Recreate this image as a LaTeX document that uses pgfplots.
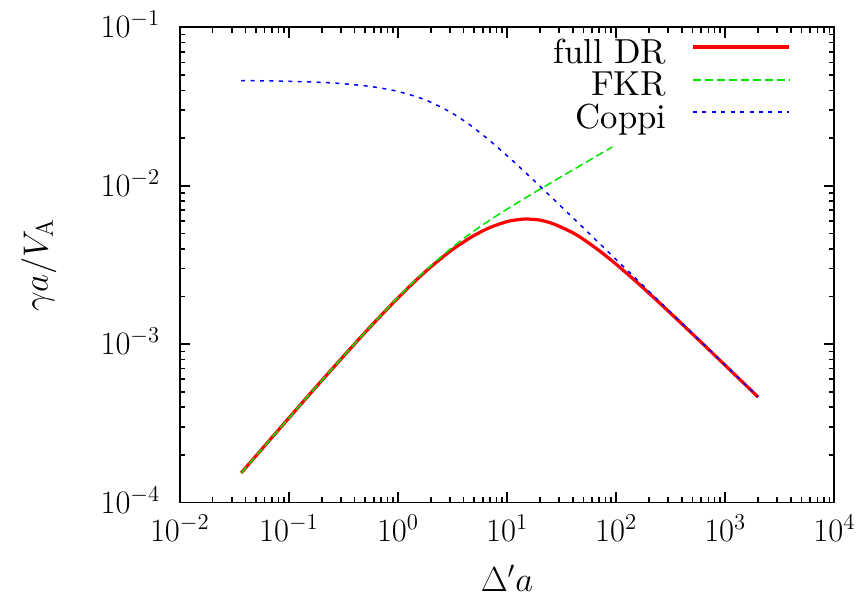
\documentclass[border=0pt]{standalone}
\usepackage[no-math]{fontspec}
\setmainfont[Extension=.otf]{lmroman10-regular}
\usepackage{graphicx}
\usepackage{pgfplots}
\pgfplotsset{compat=1.18}
\usetikzlibrary{calc}

\definecolor{gpred}{RGB}{255,0,0}
\definecolor{gpgreen}{RGB}{0,230,0}
\definecolor{gpblue}{RGB}{0,0,255}
\newcommand{\lblfont}{\fontsize{17.28}{20.7}\selectfont}
\newcommand{\legfont}{\fontsize{18.4}{22}\selectfont}

\begin{document}
\begin{tikzpicture}
\begin{axis}[
    name=ax,
    xmode=log, ymode=log,
    xmin=1e-2, xmax=1e4,
    ymin=1e-4, ymax=1e-1,
    scale only axis,
    width=346.9pt, height=251.9pt,
    xtick={1e-2,1e-1,1,10,100,1000,1e4},
    ytick={1e-4,1e-3,1e-2,1e-1},
    tick align=inside,
    major tick length=5.67pt, minor tick length=3pt,
    axis line style={line width=0.95pt},
    tick style={black, line width=0.85pt},
    tick label style={font=\lblfont},
    xticklabel style={yshift=-3.2pt},
    yticklabel style={anchor=base east, xshift=-6.9pt, yshift=-5.56pt},
    xlabel={\scalebox{1.07}{$\Delta' a$}},
    ylabel={\scalebox{1.07}{$\gamma a/V_{\mathrm{A}}$}},
    every axis x label/.style={at={(axis description cs:0.5,-0.1586)}, anchor=center, font=\lblfont},
    every axis y label/.style={at={(axis description cs:-0.2151,0.5)}, anchor=center, rotate=90, font=\lblfont},
    legend plot pos=right,
    legend cell align=right,
    legend style={at={(axis description cs:0.93384,0.97328)}, anchor=north east,
        draw=none, fill=none, inner sep=0pt, column sep=13.25pt, row sep=1.33pt,
        font=\legfont,
        nodes={inner sep=0pt, text height=12.2pt, text depth=3.7pt}},
    legend image code/.code={\draw[#1] (0pt,4.4pt) -- (50.9pt,4.4pt);},
]

% full dispersion relation
\addplot[color=gpred, line width=1.7pt, smooth] coordinates {
    (0.0365,1.537e-4)(0.05,1.974e-4)(0.1,3.419e-4)(0.2,5.889e-4)
    (0.5,1.1873e-3)(1,1.9599e-3)(1.5,2.5721e-3)(2,3.0745e-3)
    (3,3.8556e-3)(4,4.4135e-3)(5,4.8584e-3)(7,5.4563e-3)
    (10,5.9381e-3)(12,6.0793e-3)(15,6.1649e-3)(20,6.0660e-3)
    (25,5.8305e-3)(30,5.5491e-3)(40,5.0504e-3)(50,4.5939e-3)
    (70,3.8913e-3)(100,3.1932e-3)(150,2.5080e-3)(200,2.0967e-3)
    (300,1.6184e-3)(500,1.1602e-3)(700,9.2989e-4)(1000,7.3445e-4)
    (1500,5.6128e-4)(2000,4.6357e-4)
};
\addlegendentry{\legfont full DR}

% FKR
\addlegendimage{color=gpgreen, line width=1pt, dash pattern=on 4.24pt off 2.12pt}
\addlegendentry{\legfont FKR}
\addplot[forget plot, color=gpgreen, line width=0.8pt, dash pattern=on 4.24pt off 2.12pt, smooth] coordinates {
    (0.0365,1.5370e-4)(0.05,1.9740e-4)(0.1,3.4198e-4)(0.2,5.8950e-4)
    (0.5,1.19085e-3)(1,1.97401e-3)(1.5,2.60318e-3)(2,3.13017e-3)
    (3,3.97766e-3)(4,4.64375e-3)(5,5.19429e-3)(7,6.08289e-3)
    (10,7.11527e-3)(12,7.68789e-3)(15,8.43650e-3)(20,9.49465e-3)
    (25,0.0103944)(30,0.0111895)(40,0.0125647)(50,0.0137427)
    (70,0.0157282)(92,0.017544)
};

% Coppi
\addplot[color=gpblue, line width=0.8pt, dash pattern=on 2.1pt off 2.9pt, smooth] coordinates {
    (0.0365,0.046134)(0.05,0.046031)(0.1,0.045649)(0.2,0.044895)
    (0.3,0.044154)(0.5,0.042714)(0.7,0.041329)(1,0.039357)
    (1.5,0.036350)(2,0.033678)(3,0.029240)(4,0.025793)
    (5,0.023088)(7,0.019178)(10,0.015480)(12,0.013809)
    (15,0.011974)(20,0.0099352)(25,0.0085806)(30,0.0076085)
    (40,0.0062891)(50,0.0054228)(70,0.0043360)(100,0.0034191)
    (150,0.0026098)(200,0.0021545)(300,0.0016443)(500,0.0011696)
    (700,0.00093468)(1000,0.00073681)(1500,0.00056233)(2000,0.00046416)
};
\addlegendentry{\legfont Coppi}

\end{axis}
\pgfresetboundingbox
\path ($(ax.south west)+(-95.3pt,-49.5pt)$) rectangle ($(ax.north east)+(15.2pt,14.47pt)$);
\end{tikzpicture}
\end{document}
